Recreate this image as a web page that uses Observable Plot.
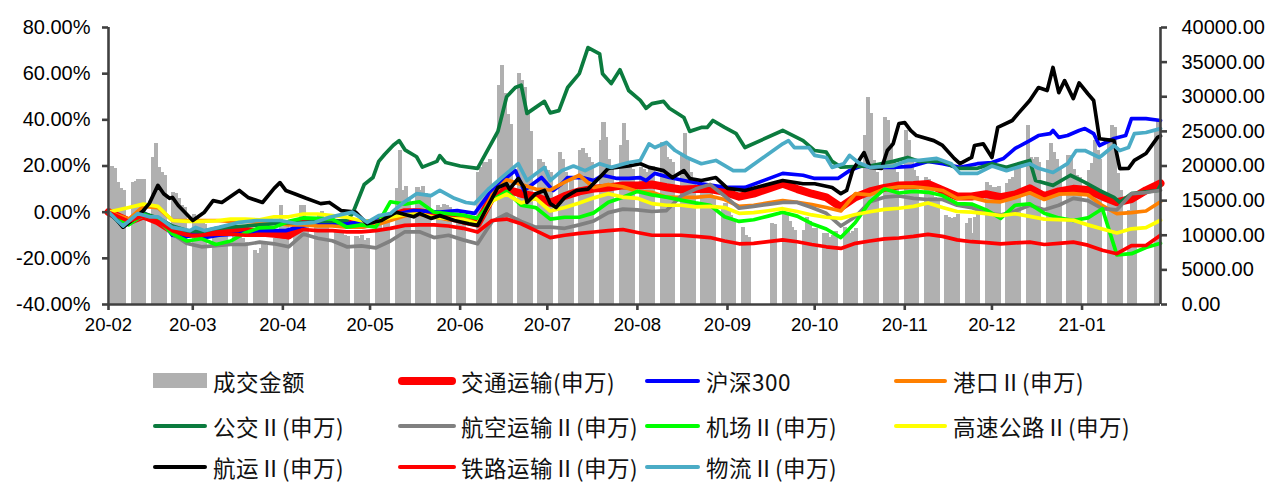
<!DOCTYPE html>
<html><head><meta charset="utf-8">
<script src="https://cdn.jsdelivr.net/npm/d3@7"></script>
<script src="https://cdn.jsdelivr.net/npm/@observablehq/plot@0.6"></script>
<style>
body{margin:0;background:#fff;}
#wrap{position:relative;width:1272px;height:483px;overflow:hidden;background:#fff;}
#chart{position:absolute;left:0;top:0;}
.lg{position:absolute;font-family:"Noto Sans CJK SC","Liberation Sans",sans-serif;font-size:22.5px;letter-spacing:0.5px;color:#111;white-space:nowrap;line-height:22px;}
.sw{position:absolute;}
</style></head><body><div id="wrap"><div id="chart"></div><div id="legend"></div></div>
<script>
// ---- common sample dates (used by several line series) ----
const sampleDates = ["2020-02-01","2020-02-08","2020-02-13","2020-02-18","2020-02-23","2020-02-28","2020-03-04","2020-03-09","2020-03-14","2020-03-19","2020-03-24","2020-03-29","2020-04-03","2020-04-08","2020-04-13","2020-04-18","2020-04-23","2020-04-28","2020-05-03","2020-05-08","2020-05-13","2020-05-18","2020-05-23","2020-05-28","2020-06-02","2020-06-07","2020-06-12","2020-06-17","2020-06-22","2020-06-27","2020-07-02","2020-07-07","2020-07-12","2020-07-17","2020-07-22","2020-07-27","2020-08-01","2020-08-06","2020-08-11","2020-08-16","2020-08-21","2020-08-26","2020-08-31","2020-09-05","2020-09-10","2020-09-15","2020-09-20","2020-09-25","2020-09-30","2020-10-05","2020-10-10","2020-10-15","2020-10-20","2020-10-25","2020-10-30","2020-11-04","2020-11-09","2020-11-14","2020-11-19","2020-11-24","2020-11-29","2020-12-04","2020-12-09","2020-12-14","2020-12-19","2020-12-24","2020-12-29","2021-01-03","2021-01-08","2021-01-13","2021-01-18","2021-01-23","2021-01-28"];

// ---- line series values (%) on sampleDates ----
const transport = [0,-4,-1.5,-4,-8,-9.4,-9.4,-8.6,-8.2,-8,-8.8,-9.4,-10,-4,-4.5,-4.5,-5,-5.5,-4.5,-2,0,0,-1,-2,-3.6,-5,6.5,9.8,8,6.8,4,7,9,10.2,10.7,11.6,11.6,12,10.8,9.8,10,10,8.8,6.7,8,10.2,12.3,10,8,6.4,2.2,6.5,9,10.5,11.6,11.8,12.2,9.5,6.8,6.8,7.8,6.5,7.7,10.3,7,9,10.1,9.6,6.8,4.3,5.7,9.5,12.5];
const port = [0,-3,2.5,2,-3.6,-3.6,-3.6,-3.6,-4,-4,-4.5,-4.5,-5.5,-5.5,-6,-6,-6.5,-6.5,-5.5,-3.6,-1.5,-0.8,-2,-3.3,-2.5,-5,7.5,14,12,10,9.6,13,16,10.7,12,11,9,8.6,6.5,6.4,6.4,7,5.5,2.5,3,4,5,4.3,3.3,2,0.5,8,7.5,10,11,11,10.3,9.4,6,6.4,4.8,4.5,6.3,8.4,5.5,7.8,8,7.5,2.8,-0.6,-0.2,0.5,4.5];
const aviation = [0,-5,-1.5,-3.5,-9.4,-13.5,-15,-14.5,-14,-14,-13,-13.7,-15,-9.5,-11.3,-12.4,-15,-14.6,-15.5,-12.5,-8.5,-8.5,-11,-10,-12,-13.7,-4,-0.8,-4,-6.5,-6.5,-7,-5.5,-3.8,-0.2,1.3,1,0.3,0.7,7,10,12,7,1.7,2.5,3.4,4.2,4.2,2,-0.5,-6,-2,4.5,6.5,7,6,5.5,5.5,3,2,-0.5,-1.2,0.5,3,1,3,6,5,1.5,1,8,8.5,9.5];
const airport = [0,-5.5,-1,-3,-9.4,-12.5,-11.5,-14,-12.5,-9,-6.8,-6.6,-4,-2.5,-2.7,-3,-6.5,-5.5,-6.5,4.5,3.5,4.5,0,-0.7,-1.3,-2.7,5,9,3,2,-3,-2.2,-2.2,-0.3,4.3,6.5,9,7.5,6.5,5.2,4,3,-2,-4,-3.3,-1.7,0,-1.7,-5,-7.3,-11,-4.5,4.5,10,8.3,9,8.6,7.2,3.7,3.5,1,-2.7,3,3.6,-0.5,-2.5,-3.6,-2.5,1.5,-18.5,-18,-15.3,-13.5];
const highway = [0,2,3.5,2.5,-3.6,-4,-4,-3.8,-3,-3,-3.3,-2,-2,-0.8,-0.8,-1.5,-2.2,-3.7,-4.3,-2.2,-1,-0.8,-2.3,-2.7,-3.2,-5,4.8,7.8,4,6,0.5,2,4,6.2,8,6.5,6,3.7,3,3,2.3,2.5,2,-0.5,-0.2,0.6,1.5,0.3,-1.2,-2.2,-2.7,-1,0.2,1.2,1.7,2.5,4,2,0.3,0,-0.6,-1.5,-0.7,-1.8,-3,-3.2,-3.5,-5.5,-7.3,-9,-7.2,-6.7,-3.5];
const railway = [0,-4,-1.5,-4,-8,-10,-10,-9.5,-9.5,-10,-10,-10,-11,-7.5,-8,-8,-8.5,-8.5,-8,-7,-5.7,-5.5,-5.5,-6,-7,-8.6,-3.6,-3,-5,-8,-11,-10,-9.2,-8.6,-8,-7.5,-8.8,-10,-10,-10,-10.5,-11,-12.5,-13.7,-13.5,-12.8,-12,-12.8,-14,-15,-15.7,-13.5,-12.5,-11.6,-11.2,-10.5,-9.6,-10.5,-12,-12.8,-13.2,-13.7,-13.3,-13,-14,-13.5,-13,-14.3,-16.5,-18,-14.5,-14.4,-10];

// ---- more detailed series with their own dates ----
const hs300Dates = ["2020-02-01","2020-02-06","2020-02-13","2020-02-19","2020-02-23","2020-02-27","2020-03-02","2020-03-05","2020-03-10","2020-03-17","2020-03-23","2020-03-28","2020-04-02","2020-04-06","2020-04-12","2020-04-23","2020-05-02","2020-05-08","2020-05-16","2020-05-25","2020-05-31","2020-06-06","2020-06-11","2020-06-17","2020-06-20","2020-06-23","2020-06-29","2020-07-03","2020-07-06","2020-07-08","2020-07-13","2020-07-17","2020-07-20","2020-07-25","2020-07-29","2020-08-02","2020-08-04","2020-08-07","2020-08-12","2020-08-17","2020-08-23","2020-09-01","2020-09-07","2020-09-20","2020-09-27","2020-10-01","2020-10-09","2020-10-13","2020-10-17","2020-10-23","2020-10-28","2020-11-03","2020-11-09","2020-11-14","2020-11-20","2020-11-26","2020-12-01","2020-12-05","2020-12-09","2020-12-14","2020-12-17","2020-12-21","2020-12-22","2020-12-24","2020-12-27","2020-12-31","2021-01-02","2021-01-05","2021-01-07","2021-01-12","2021-01-16","2021-01-18","2021-01-23","2021-01-28"];
const hs300 = [0,-5,-0.5,-3.6,-10,-11,-9.4,-11,-10,-9.4,-8,-8,-8,-6.6,-5,-5,-3.6,-1.5,0.7,0,0.7,-0.5,8,15,18,9.4,15,9.4,12.3,15,15,13.7,16,14.6,14.6,15,13.7,16.8,15,13.7,12.3,10.7,10.7,16.8,16,14.6,14.6,18,20,19.4,19.4,19.8,22,21,19.4,21,21.5,23.3,27.6,31,33.2,34,35.4,32.4,33.2,35.4,36.2,34,28.9,31.9,33.2,40.5,40.5,39.7];

const busDates = ["2020-02-01","2020-02-06","2020-02-13","2020-02-18","2020-02-23","2020-02-28","2020-03-04","2020-03-09","2020-03-14","2020-03-19","2020-03-24","2020-03-29","2020-04-03","2020-04-08","2020-04-13","2020-04-18","2020-04-23","2020-04-25","2020-04-29","2020-05-02","2020-05-04","2020-05-06","2020-05-09","2020-05-11","2020-05-13","2020-05-17","2020-05-19","2020-05-24","2020-05-25","2020-05-27","2020-06-01","2020-06-07","2020-06-14","2020-06-17","2020-06-20","2020-06-22","2020-06-24","2020-06-30","2020-07-02","2020-07-05","2020-07-08","2020-07-12","2020-07-15","2020-07-19","2020-07-20","2020-07-23","2020-07-26","2020-07-29","2020-08-02","2020-08-04","2020-08-06","2020-08-10","2020-08-12","2020-08-17","2020-08-19","2020-08-23","2020-08-25","2020-08-27","2020-08-31","2020-09-04","2020-09-07","2020-09-20","2020-09-27","2020-10-01","2020-10-05","2020-10-07","2020-10-10","2020-10-20","2020-10-28","2020-11-02","2020-11-06","2020-11-14","2020-11-19","2020-11-26","2020-12-01","2020-12-06","2020-12-14","2020-12-16","2020-12-22","2020-12-28","2021-01-02","2021-01-07","2021-01-12","2021-01-14","2021-01-18","2021-01-27","2021-01-28"];
const bus = [0,-6,-0.5,-2.5,-6,-8,-8.5,-7,-6.5,-6,-5.5,-5,-4.5,-4.5,-4,-4,-3.5,-0.6,12,15,22,25,29,31,27,24,19.5,22,24.5,21.5,20,19,35,50,54,55,42.8,48,43,44,54,60,71.3,68.6,60,55.7,61.7,52.7,48.4,45,47,48,45,41,35,36.7,36.7,39.7,36.7,34,28,35.4,31,26.7,26,22,19.5,20,22,23.7,22,22,19,19,21,19.4,22.4,13.7,11.6,16,12.9,9.4,6.4,4.2,8,9.4,11.6];

const shippingDates = ["2020-02-01","2020-02-04","2020-02-06","2020-02-09","2020-02-13","2020-02-15","2020-02-18","2020-02-20","2020-02-22","2020-02-23","2020-02-25","2020-03-01","2020-03-05","2020-03-08","2020-03-11","2020-03-17","2020-03-20","2020-03-25","2020-03-29","2020-03-31","2020-04-02","2020-04-05","2020-04-09","2020-04-14","2020-04-17","2020-04-21","2020-04-26","2020-04-30","2020-05-05","2020-05-10","2020-05-16","2020-05-18","2020-05-22","2020-05-25","2020-05-30","2020-06-04","2020-06-07","2020-06-11","2020-06-14","2020-06-17","2020-06-18","2020-06-21","2020-06-23","2020-06-24","2020-06-27","2020-06-30","2020-07-02","2020-07-04","2020-07-07","2020-07-11","2020-07-15","2020-07-19","2020-07-22","2020-07-29","2020-08-02","2020-08-05","2020-08-10","2020-08-13","2020-08-17","2020-08-19","2020-08-23","2020-08-28","2020-09-01","2020-09-07","2020-09-20","2020-09-27","2020-10-01","2020-10-07","2020-10-10","2020-10-12","2020-10-14","2020-10-18","2020-10-20","2020-10-24","2020-10-26","2020-10-28","2020-10-30","2020-11-01","2020-11-03","2020-11-05","2020-11-11","2020-11-14","2020-11-18","2020-11-20","2020-11-24","2020-11-25","2020-11-28","2020-12-01","2020-12-03","2020-12-08","2020-12-10","2020-12-14","2020-12-17","2020-12-20","2020-12-22","2020-12-24","2020-12-26","2020-12-29","2020-12-31","2021-01-03","2021-01-05","2021-01-07","2021-01-12","2021-01-14","2021-01-17","2021-01-19","2021-01-23","2021-01-27","2021-01-28"];
const shipping = [0,-3.6,-6.5,-3.6,0.7,3.7,11.6,8,6,6.4,2.9,-3.6,0,5,4.2,9.4,6.4,4.2,10.3,12.8,9.4,8,6,3.7,4.2,0.7,0,-5,-3.6,0,-2,-0.6,-2.7,-1.5,-3.6,-5,-5.7,3.7,10.7,12.3,10,14.6,10.7,4.2,8,9.4,3.7,2,6.4,9.4,10,15,19,20,21,19.4,18,15,18,14.6,13.7,15,10.3,9.4,13.7,12.3,12.3,10.7,8,9.4,18,25.8,19.4,19,26.7,29.6,38.4,38.8,35.4,33.2,31,28.9,23.3,21,23.7,28.9,29.6,23.7,36.7,39.7,42.7,48.4,54,52.7,62.7,51.8,57,49.2,56,51.3,48.4,31.8,31,18.9,19,22.4,25.4,32.4,33];

const logisticsDates = ["2020-02-01","2020-02-04","2020-02-06","2020-02-11","2020-02-15","2020-02-18","2020-02-23","2020-02-29","2020-03-02","2020-03-05","2020-03-10","2020-03-17","2020-03-23","2020-03-31","2020-04-06","2020-04-12","2020-04-17","2020-04-25","2020-04-30","2020-05-04","2020-05-08","2020-05-12","2020-05-17","2020-05-22","2020-05-25","2020-05-30","2020-06-03","2020-06-06","2020-06-11","2020-06-17","2020-06-21","2020-06-24","2020-06-30","2020-07-02","2020-07-06","2020-07-10","2020-07-14","2020-07-19","2020-07-23","2020-07-29","2020-08-02","2020-08-05","2020-08-07","2020-08-11","2020-08-14","2020-08-18","2020-08-23","2020-08-28","2020-09-03","2020-09-07","2020-09-20","2020-09-22","2020-09-24","2020-09-29","2020-10-01","2020-10-05","2020-10-07","2020-10-11","2020-10-13","2020-10-16","2020-10-20","2020-10-28","2020-11-02","2020-11-06","2020-11-12","2020-11-17","2020-11-20","2020-11-26","2020-12-01","2020-12-06","2020-12-14","2020-12-17","2020-12-22","2020-12-27","2020-12-30","2021-01-02","2021-01-07","2021-01-12","2021-01-14","2021-01-17","2021-01-19","2021-01-23","2021-01-28"];
const logistics = [0,-3.6,-6,-0.6,-2,-2,-6.6,-8,-6.6,-8,-6.6,-4.4,-3.6,-3.6,-5,-4.4,-2.2,0,-4.4,-1.5,-0.6,3.7,8,7.2,9.4,6,4.2,3.7,10.3,16.8,21,13.7,19.4,13.7,18,20,18,21,19.4,21.5,22.4,29.6,28,30.2,26.7,23.7,21,22.4,18,18,29.6,31,28,28,24.6,23.7,19.4,21,24.6,21.5,19.4,20,22.4,22.4,23.3,21,16.8,16.8,20,18,21,19,17.2,21,26.7,26.7,23.7,28.9,26.7,28,34,34.5,36.2];

// ---- turnover (成交金额) by week, Mon..Fri ----
const weekStarts = ["2020-02-03","2020-02-10","2020-02-17","2020-02-24","2020-03-02","2020-03-09","2020-03-16","2020-03-23","2020-03-30","2020-04-06","2020-04-13","2020-04-20","2020-04-27","2020-05-04","2020-05-11","2020-05-18","2020-05-25","2020-06-01","2020-06-08","2020-06-15","2020-06-22","2020-06-29","2020-07-06","2020-07-13","2020-07-20","2020-07-27","2020-08-03","2020-08-10","2020-08-17","2020-08-24","2020-08-31","2020-09-07","2020-09-14","2020-09-21","2020-09-28","2020-10-05","2020-10-12","2020-10-19","2020-10-26","2020-11-02","2020-11-09","2020-11-16","2020-11-23","2020-11-30","2020-12-07","2020-12-14","2020-12-21","2020-12-28","2021-01-04","2021-01-11","2021-01-18","2021-01-25"];
const turnover = [
[20000,19700,17600,16700,16500],[17600,17800,18000,18100,18000],[21200,23200,19800,19000,18600],[16200,16000,15300,14300,14000],
[13000,12500,12000,12000,11500],[11000,10500,10000,10000,10500],[10200,10000,9800,9500,9000],[7800,7400,8100,8800,8500],
[9500,10500,14300,12000,11500],[10700,11500,14300,14300,12000],[12500,13000,13500,12000,11500],[10500,10200,10200,10000,9800],
[9800,9500,10000,9300,9500],[11000,11500,11000,11800,12000],[16700,22200,16500,17000,15500],[16900,16500,17000,16000,15500],
[14300,14000,14500,14300,14000],[12500,12000,11500,null,null],[19000,19800,20500,20500,21000],[31600,34500,30500,27500,26000],
[33300,32300,31300,27600,25000],[21000,20500,20000,19300,19000],[22000,21000,19000,16500,18000],[22200,22500,21800,21200,20500],
[23700,26300,24100,21000,20000],[23000,26100,23700,20400,19500],[19800,19500,19000,19500,20000],[23400,23000,21200,21000,20500],
[21800,24700,20800,19000,18000],[17500,17000,16500,16000,15500],[14000,14600,13500,12800,12000],[11100,10000,9700,null,null],
[null,null,null,11700,11500],[13100,13100,12000,11100,10700],[10700,12600,12000,11000,11000],[10250,10200,9700,10000,10500],
[11100,10800,10250,10500,11000],[24400,29900,27600,20800,19000],[27000,26600,23200,20800,19000],[25100,23700,21000,19300,18500],
[18300,18000,16900,15500,15000],[12800,12600,12400,12600,13000],[11700,12400,10250,12600,13000],[17600,17200,16900,16900,17000],
[17500,18000,18300,20400,20000],[25800,21200,21000,21200,20500],[20800,23200,22000,21000,19800],[21500,21200,19500,18600,18300],
[19300,20400,23700,22200,21000],[24000,25800,25600,18900,16500],[13600,15400,15000,null,null],[null,null,25100,26600]
];

// ---- axes ----
const xDomain = ["2020-02-01","2021-01-28"];
const monthTicks = ["2020-02-01","2020-03-01","2020-04-01","2020-05-01","2020-06-01","2020-07-01","2020-08-01","2020-09-01","2020-10-01","2020-11-01","2020-12-01","2021-01-01"];
const leftTicks = [-40,-20,0,20,40,60,80];
const rightTicks = [0,5000,10000,15000,20000,25000,30000,35000,40000];
const leftDomain = [-40,80];
const rightDomain = [0,40000];

// ---- series styling / legend ----
const seriesNames = ["交通运输(申万)","沪深300","港口Ⅱ(申万)","公交Ⅱ(申万)","航空运输Ⅱ(申万)","机场Ⅱ(申万)","高速公路Ⅱ(申万)","航运Ⅱ(申万)","铁路运输Ⅱ(申万)","物流Ⅱ(申万)"];
const seriesValues = [transport,hs300,port,bus,aviation,airport,highway,shipping,railway,logistics];
const seriesDates = [sampleDates,hs300Dates,sampleDates,busDates,sampleDates,sampleDates,sampleDates,shippingDates,sampleDates,logisticsDates];
const seriesColors = ["#ff0000","#0000ff","#ff8000","#0b7b3e","#808080","#00ff00","#ffff00","#000000","#ff0000","#4bacc6"];
const seriesWidths = [8,3.7,3.7,3.7,3.7,3.7,3.7,3.7,3.7,3.7];
const barName = "成交金额";
const barColor = "#b0b0b0";

const parse = d3.utcParse("%Y-%m-%d");
const toLeft = v => leftDomain[0] + (v - rightDomain[0]) * (leftDomain[1]-leftDomain[0]) / (rightDomain[1]-rightDomain[0]);

const bars = [];
weekStarts.forEach((ws,k) => {
  const d0 = parse(ws);
  turnover[k].forEach((v,j) => {
    if (v == null) return;
    const d = d3.utcDay.offset(d0, j);
    bars.push({x1: d3.utcDay.offset(d, -1), x2: d, v});
  });
});

const lineMarks = seriesValues.map((vals,s) => {
  const dates = seriesDates[s];
  const n = Math.min(vals.length, dates.length);
  const data = [];
  for (let i=0;i<n;i++) data.push({date: parse(dates[i]), value: vals[i]});
  return Plot.line(data, {x:"date", y:"value", stroke: seriesColors[s], strokeWidth: seriesWidths[s], strokeLinejoin:"round", strokeLinecap:"round"});
});

const x0 = parse(xDomain[0]), x1 = parse(xDomain[1]);
const axisColor = "#404040";

const chart = Plot.plot({
  width: 1272, height: 345,
  marginLeft: 108, marginRight: 112, marginTop: 27, marginBottom: 41,
  x: {type: "utc", domain: [x0, x1]},
  y: {domain: leftDomain},
  style: {fontFamily: "'Liberation Sans', Arial, sans-serif", fontSize: "20px", color: "#000", background: "#fff", overflow: "visible"},
  marks: [
    Plot.rect(bars, {x1: "x1", x2: "x2", y1: leftDomain[0], y2: d => toLeft(d.v), fill: barColor, insetLeft: -0.6, insetRight: -0.6, shapeRendering: "crispEdges"}),
    ...lineMarks,
    Plot.ruleY([leftDomain[0]], {stroke: axisColor, strokeWidth: 2.6}),
    Plot.ruleX([x0, x1], {stroke: axisColor, strokeWidth: 2.6}),
    Plot.axisY({anchor: "left", ticks: leftTicks, tickFormat: d => d.toFixed(2) + "%", tickSize: 6, tickPadding: 12, stroke: axisColor, strokeWidth: 2.6, fill: "#000", fontSize: 20, label: null}),
    Plot.axisY({anchor: "right", ticks: rightTicks.map(toLeft), tickFormat: d => (rightDomain[0] + (d - leftDomain[0]) * (rightDomain[1]-rightDomain[0]) / (leftDomain[1]-leftDomain[0])).toFixed(2), tickSize: 6, tickPadding: 15, stroke: axisColor, strokeWidth: 2.6, fill: "#000", fontSize: 20, label: null}),
    Plot.axisX({ticks: monthTicks.map(parse), tickFormat: d3.utcFormat("%y-%m"), tickSize: 6, tickPadding: 7, stroke: axisColor, strokeWidth: 2.6, fill: "#000", fontSize: 18.5, label: null})
  ]
});
document.getElementById("chart").appendChild(chart);

// ---- legend ----
const legendItems = [{name: barName, color: barColor, type: "box"}].concat(seriesNames.map((n,i) => ({name: n, color: seriesColors[i], type: "line", w: seriesWidths[i] > 5 ? 8.5 : 4.2})));
const colSwatch = [[153,207],[398,456],[645,700],[894,947]];
const colText = [213,461,706,953];
const rowY = [381,426,467];
const lg = document.getElementById("legend");
legendItems.forEach((it,i) => {
  const r = Math.floor(i/4), c = i%4;
  const cy = rowY[r];
  const sw = document.createElement("div");
  sw.className = "sw";
  const [a,b] = colSwatch[c];
  if (it.type === "box") {
    Object.assign(sw.style, {left: a+"px", top: (cy-8)+"px", width: (b-a)+"px", height: "15px", background: it.color});
  } else {
    Object.assign(sw.style, {left: a+"px", top: (cy - it.w/2)+"px", width: (b-a)+"px", height: it.w+"px", background: it.color, borderRadius: (it.w/2)+"px"});
  }
  lg.appendChild(sw);
  const t = document.createElement("div");
  t.className = "lg";
  t.textContent = it.name;
  Object.assign(t.style, {left: colText[c]+"px", top: (cy-11)+"px"});
  lg.appendChild(t);
});
</script></body></html>
